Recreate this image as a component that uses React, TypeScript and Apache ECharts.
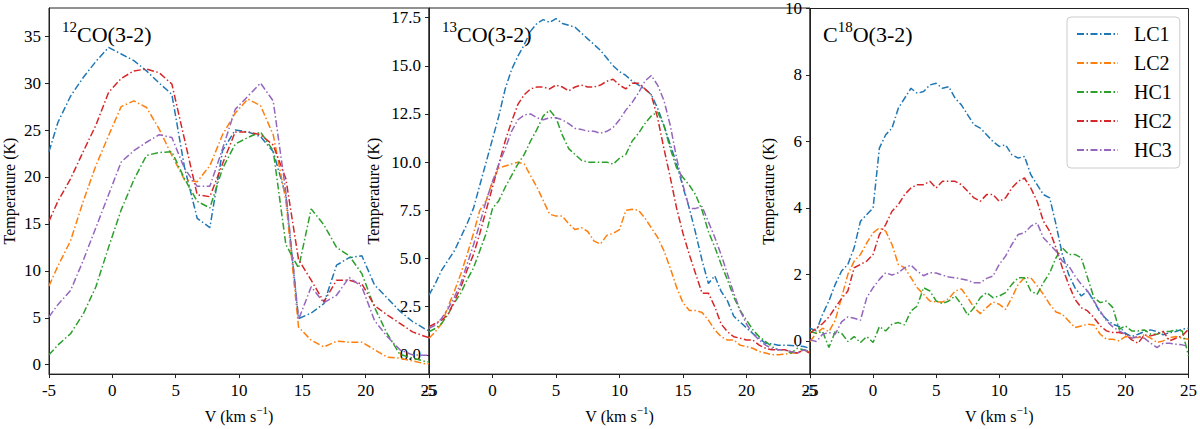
import { useEffect, useRef } from 'react';
import * as echarts from 'echarts';

const lineNames = ['LC1', 'LC2', 'HC1', 'HC2', 'HC3'];
const lineColors = ['#1f77b4', '#ff7f0e', '#2ca02c', '#d62728', '#9467bd'];

// 12CO(3-2), channel spacing ~1 km/s
const vel12 = [-5, -4.3, -3.3, -2.3, -1.3, -0.3, 0.7, 1.7, 2.7, 3.7, 4.7, 5.7, 6.7, 7.7, 8.7, 9.7, 10.7, 11.7, 12.7, 13.7, 14.7, 15.7, 16.7, 17.7, 18.7, 19.7, 20.7, 21.7, 22.7, 23.7, 24.7, 25];
const co12LC1 = [22.7, 25.8, 28.6, 30.6, 32.3, 33.8, 33.1, 32.4, 31.3, 30.0, 28.8, 21.0, 15.6, 14.6, 22.8, 25.0, 24.8, 24.3, 22.7, 18.0, 4.9, 5.5, 6.5, 10.6, 11.4, 11.6, 8.5, 7.1, 5.7, 4.6, 3.8, 3.6];
const co12LC2 = [8.4, 10.5, 13.2, 17.4, 21.2, 24.4, 27.5, 28.1, 27.4, 25.1, 22.3, 19.7, 19.5, 21.2, 24.5, 26.8, 28.3, 27.6, 24.5, 17.5, 4.0, 2.6, 1.9, 2.5, 2.4, 2.4, 1.6, 0.8, 0.7, 0.4, 0.1, 0.1];
const co12HC1 = [1.05, 2.1, 3.3, 5.4, 8.3, 12.5, 16.5, 19.7, 22.3, 22.6, 22.7, 19.8, 17.4, 16.7, 20.9, 23.5, 24.2, 24.8, 22.8, 12.8, 10.3, 16.6, 14.9, 12.5, 11.6, 9.7, 6.1, 3.3, 1.1, 0.7, 0.35, 0.3];
const co12HC2 = [15.3, 17.4, 19.8, 22.7, 25.5, 29.0, 30.5, 31.3, 31.5, 31.1, 29.9, 24.0, 18.1, 17.9, 21.4, 24.8, 24.8, 24.5, 23.4, 19.8, 11.2, 9.0, 6.7, 9.0, 9.0, 8.6, 6.3, 5.3, 4.4, 3.5, 3.0, 2.9];
const co12HC3 = [5.1, 6.4, 7.9, 11.1, 14.6, 18.1, 21.6, 22.8, 23.7, 24.5, 24.2, 20.9, 19.0, 19.0, 23.0, 27.2, 28.6, 30.0, 28.1, 18.4, 4.8, 8.3, 6.6, 7.4, 9.3, 8.3, 4.7, 3.0, 1.6, 1.05, 1.0, 1.0];

// 13CO(3-2) and C18O(3-2), read every 0.5 km/s
const velFine = [-5, -4.5, -4, -3.5, -3, -2.5, -2, -1.5, -1, -0.5, 0, 0.5, 1, 1.5, 2, 2.5, 3, 3.5, 4, 4.5, 5, 5.5, 6, 6.5, 7, 7.5, 8, 8.5, 9, 9.5, 10, 10.5, 11, 11.5, 12, 12.5, 13, 13.5, 14, 14.5, 15, 15.5, 16, 16.5, 17, 17.5, 18, 18.5, 19, 19.5, 20, 20.5, 21, 21.5, 22, 22.5, 23, 23.5, 24, 24.5, 25];

const co13LC1 = [3.1, 3.7, 4.4, 4.9, 5.4, 6.1, 6.8, 7.6, 8.8, 10.0, 11.2, 12.4, 13.8, 14.8, 15.5, 16.1, 16.8, 17.2, 17.4, 17.25, 17.45, 17.2, 17.1, 17.0, 16.7, 16.4, 16.1, 15.8, 15.4, 15.0, 14.7, 14.5, 14.2, 14.0, 13.8, 13.5, 12.8, 11.9, 10.9, 9.9, 8.7, 7.6, 6.3, 4.9, 3.7, 4.1, 3.3, 2.8, 2.0, 1.7, 1.4, 1.1, 0.86, 0.6, 0.57, 0.5, 0.5, 0.48, 0.46, 0.43, 0.34];
const co13LC2 = [0.86, 1.2, 1.63, 2.5, 3.3, 4.2, 5.2, 6.3, 7.5, 8.0, 9.0, 9.7, 9.8, 9.9, 10.0, 9.9, 9.3, 8.7, 8.0, 7.3, 7.2, 7.2, 6.8, 6.5, 6.6, 6.4, 5.9, 5.75, 6.2, 6.3, 6.5, 7.5, 7.55, 7.5, 7.1, 6.6, 6.1, 5.4, 4.5, 3.5, 2.7, 2.3, 2.3, 2.2, 1.8, 1.3, 0.94, 0.77, 0.77, 0.5, 0.43, 0.34, 0.17, 0.09, 0.0, 0.0, 0.03, 0.09, 0.09, 0.26, 0.09];
const co13HC1 = [1.2, 1.37, 1.63, 2.1, 2.7, 3.2, 3.9, 4.5, 5.4, 6.3, 7.6, 8.0, 8.7, 9.3, 9.9, 10.4, 11.1, 11.7, 12.4, 12.7, 12.3, 11.4, 10.7, 10.4, 10.1, 10.0, 10.0, 10.0, 10.0, 9.9, 10.2, 10.4, 11.1, 11.5, 12.0, 12.4, 12.6, 11.9, 10.7, 9.7, 9.2, 8.8, 8.3, 7.5, 6.4, 5.6, 4.7, 3.9, 3.0, 2.3, 1.8, 1.3, 0.94, 0.69, 0.43, 0.26, 0.26, 0.09, 0.34, 0.26, 0.17];
const co13HC2 = [1.46, 1.63, 1.8, 2.1, 2.8, 3.5, 4.4, 5.2, 6.3, 7.5, 8.7, 9.9, 11.1, 12.1, 13.0, 13.5, 13.8, 13.9, 13.9, 13.8, 14.0, 13.9, 13.7, 13.9, 14.0, 13.9, 13.9, 14.0, 14.2, 14.3, 14.0, 13.8, 14.1, 14.1, 13.8, 13.5, 12.3, 10.7, 9.2, 7.6, 6.3, 5.2, 4.2, 3.2, 3.2, 2.5, 1.6, 1.2, 0.94, 0.86, 0.77, 0.77, 0.5, 0.34, 0.26, 0.26, 0.26, 0.17, 0.09, 0.26, 0.09];
const co13HC3 = [1.37, 1.54, 1.9, 2.4, 3.0, 3.7, 4.7, 5.7, 6.8, 8.0, 9.0, 9.9, 10.7, 11.6, 12.2, 12.45, 12.5, 12.3, 12.2, 12.3, 12.3, 12.2, 12.0, 11.75, 11.7, 11.6, 11.6, 11.5, 11.6, 11.8, 12.2, 12.7, 13.1, 13.6, 14.2, 14.5, 14.0, 13.2, 11.9, 10.2, 8.8, 7.6, 7.6, 7.7, 6.9, 6.1, 5.2, 4.2, 3.2, 2.3, 1.6, 1.1, 0.77, 0.5, 0.34, 0.26, 0.26, 0.17, 0.09, 0.26, 0.17];

const c18oLC1 = [0.38, 0.3, 0.8, 1.2, 1.7, 2.1, 2.3, 2.8, 3.6, 3.8, 4.0, 5.8, 6.2, 6.4, 7.0, 7.3, 7.6, 7.45, 7.5, 7.7, 7.75, 7.6, 7.65, 7.3, 7.1, 6.8, 6.5, 6.4, 6.2, 6.0, 5.85, 5.9, 5.6, 5.5, 5.55, 5.0, 4.7, 4.4, 4.3, 3.5, 2.6, 2.0, 1.6, 1.35, 1.5, 1.2, 0.85, 0.65, 0.5, 0.43, 0.23, 0.13, 0.2, 0.28, 0.33, 0.28, 0.18, 0.25, 0.28, 0.35, 0.38];
const c18oLC2 = [-0.02, 0.23, 0.38, 0.28, 0.62, 1.3, 2.0, 2.4, 2.6, 2.95, 3.25, 3.4, 3.3, 2.9, 2.3, 2.2, 1.9, 1.6, 1.4, 1.2, 1.17, 1.17, 1.27, 1.5, 1.56, 1.3, 1.0, 0.82, 1.0, 1.17, 1.1, 0.95, 1.3, 1.7, 1.9, 1.9, 1.66, 1.4, 1.1, 0.87, 0.8, 0.6, 0.4, 0.45, 0.5, 0.48, 0.2, 0.05, 0.05, 0.0, 0.13, 0.1, 0.1, 0.18, 0.08, -0.05, 0.0, 0.1, 0.13, 0.08, 0.05];
const c18oHC1 = [0.28, 0.23, 0.28, -0.2, 0.28, 0.23, -0.02, 0.13, -0.05, 0.13, -0.05, 0.43, 0.3, 0.5, 0.55, 0.48, 0.9, 1.05, 1.6, 1.5, 1.2, 1.12, 1.2, 1.35, 1.1, 0.77, 1.0, 1.3, 1.45, 1.3, 1.35, 1.45, 1.7, 1.9, 1.9, 1.5, 1.4, 1.75, 2.05, 2.5, 2.8, 2.6, 2.6, 2.5, 1.9, 1.3, 1.15, 1.2, 1.0, 0.35, 0.45, 0.3, 0.3, 0.33, 0.2, 0.2, 0.28, 0.28, 0.33, 0.3, -0.45];
const c18oHC2 = [0.23, 0.38, 0.52, 0.72, 1.0, 1.27, 1.5, 2.2, 2.3, 2.4, 2.6, 3.2, 3.5, 3.9, 4.1, 4.4, 4.6, 4.7, 4.7, 4.8, 4.6, 4.8, 4.8, 4.8, 4.7, 4.5, 4.3, 4.2, 4.4, 4.4, 4.2, 4.3, 4.6, 4.8, 4.9, 4.6, 4.2, 3.6, 3.3, 2.8, 2.2, 1.7, 1.25, 1.0, 0.9, 0.7, 0.45, 0.3, 0.25, 0.25, 0.2, 0.03, -0.07, 0.18, 0.15, 0.2, 0.28, 0.0, 0.08, 0.15, 0.35];
const c18oHC3 = [0.03, -0.02, 0.2, 0.25, 0.2, 0.57, 0.72, 0.68, 0.62, 1.3, 1.6, 1.85, 2.05, 1.98, 2.05, 2.2, 2.28, 2.1, 1.96, 2.05, 2.04, 1.98, 1.92, 1.9, 1.86, 1.82, 1.75, 1.75, 1.88, 1.95, 2.3, 2.55, 2.9, 3.2, 3.25, 3.45, 3.55, 3.1, 2.9, 2.7, 2.4, 2.26, 1.95, 1.7, 1.5, 1.2, 0.9, 0.6, 0.42, 0.3, 0.2, 0.08, 0.13, 0.08, -0.07, -0.2, -0.07, -0.07, -0.1, -0.12, -0.17];

const velTicks = [-5, 0, 5, 10, 15, 20, 25];
const tempTicks12 = [0, 5, 10, 15, 20, 25, 30, 35];
const tempTicks13 = [0, 2.5, 5, 7.5, 10, 12.5, 15, 17.5];
const tempTicks18 = [0, 2, 4, 6, 8, 10];

const FONT = '"Liberation Serif", "Times New Roman", serif';
const AXIS_COLOR = '#222';
const DASH = [7, 2.5, 1.5, 2.5];

const panels = [
  { vel: vel12, lines: [co12LC1, co12LC2, co12HC1, co12HC2, co12HC3], ticks: tempTicks12, yMax: 38, digits: 0, nameGap: 32, sup: '12', main: 'CO(3-2)', pre: '', left: 49, width: 380 },
  { vel: velFine, lines: [co13LC1, co13LC2, co13HC1, co13HC2, co13HC3], ticks: tempTicks13, yMax: 18, digits: 1, nameGap: 48, sup: '13', main: 'CO(3-2)', pre: '', left: 429, width: 381 },
  { vel: velFine, lines: [c18oLC1, c18oLC2, c18oHC1, c18oHC2, c18oHC3], ticks: tempTicks18, yMax: 10, digits: 0, nameGap: 34, sup: '18', main: 'O(3-2)', pre: 'C', left: 810, width: 380 },
];

export default function App() {
  const chartRef = useRef<HTMLDivElement>(null);

  useEffect(() => {
    if (!chartRef.current) return;
    const chart = echarts.init(chartRef.current, undefined, { renderer: 'svg' });

    const option = {
      animation: false,
      backgroundColor: '#fff',
      textStyle: { fontFamily: FONT },
      grid: panels.map((p) => ({
        left: p.left,
        top: 8,
        width: p.width,
        height: 370,
        show: true,
        borderColor: AXIS_COLOR,
        borderWidth: 1,
        backgroundColor: 'transparent',
      })),
      xAxis: panels.map((p, i) => ({
        type: 'value',
        gridIndex: i,
        min: -5,
        max: 25,
        interval: 5,
        name: '{m|V (km s}{s|−1}{m|)}',
        nameLocation: 'middle',
        nameGap: 26,
        nameTextStyle: {
          rich: {
            m: { fontSize: 16, fontFamily: FONT, color: '#000', lineHeight: 20, verticalAlign: 'bottom' },
            s: { fontSize: 11, fontFamily: FONT, color: '#000', verticalAlign: 'top' },
          },
        },
        axisLine: { show: true, onZero: false, lineStyle: { color: AXIS_COLOR, width: 1 } },
        axisTick: { show: true, length: 4, lineStyle: { color: AXIS_COLOR } },
        axisLabel: {
          margin: 8,
          fontSize: 17,
          color: '#000',
          fontFamily: FONT,
          showMinLabel: true,
          showMaxLabel: true,
          customValues: velTicks,
        },
        splitLine: { show: false },
      })),
      yAxis: panels.map((p, i) => ({
        type: 'value',
        gridIndex: i,
        min: -1,
        max: p.yMax,
        name: 'Temperature (K)',
        nameLocation: 'middle',
        nameGap: p.nameGap,
        nameTextStyle: { fontSize: 16, color: '#000', fontFamily: FONT },
        axisLine: { show: true, onZero: false, lineStyle: { color: AXIS_COLOR, width: 1 } },
        axisTick: { show: true, length: 4, lineStyle: { color: AXIS_COLOR }, customValues: p.ticks },
        axisLabel: {
          margin: 8,
          fontSize: 17,
          color: '#000',
          fontFamily: FONT,
          customValues: p.ticks,
          formatter: (v: number) => v.toFixed(p.digits),
        },
        splitLine: { show: false },
      })),
      legend: {
        data: lineNames,
        orient: 'vertical',
        left: 1067,
        top: 17,
        padding: [7, 8, 8, 9],
        itemWidth: 41,
        itemHeight: 14,
        itemGap: 9,
        borderColor: '#ccc',
        borderWidth: 1,
        borderRadius: 4,
        backgroundColor: 'rgba(255,255,255,0.8)',
        itemStyle: { opacity: 0 },
        textStyle: { fontSize: 20, color: '#000', fontFamily: FONT, padding: [0, 0, 0, 11] },
      },
      graphic: panels.map((p) => ({
        type: 'text',
        left: p.left + 13,
        top: 19,
        silent: true,
        style: {
          text: (p.pre ? '{m|' + p.pre + '}' : '') + '{s|' + p.sup + '}{m|' + p.main + '}',
          fill: '#000',
          rich: {
            m: { fontSize: 22, fontFamily: FONT, fill: '#000', lineHeight: 26, verticalAlign: 'bottom' },
            s: { fontSize: 15, fontFamily: FONT, fill: '#000', verticalAlign: 'top' },
          },
        },
      })),
      series: panels.flatMap((p, i) =>
        p.lines.map((vals, j) => ({
          type: 'line',
          name: lineNames[j],
          xAxisIndex: i,
          yAxisIndex: i,
          data: p.vel.map((v, k) => [v, vals[k]]),
          symbol: 'none',
          clip: true,
          lineStyle: { color: lineColors[j], width: 1.5, type: DASH },
          itemStyle: { color: lineColors[j] },
        }))
      ),
    };

    chart.setOption(option as any);

    return () => {
      chart.dispose();
    };
  }, []);

  return (
    <div
      ref={chartRef}
      style={{ position: 'fixed', left: 0, top: 0, width: 1200, height: 429 }}
    />
  );
}
